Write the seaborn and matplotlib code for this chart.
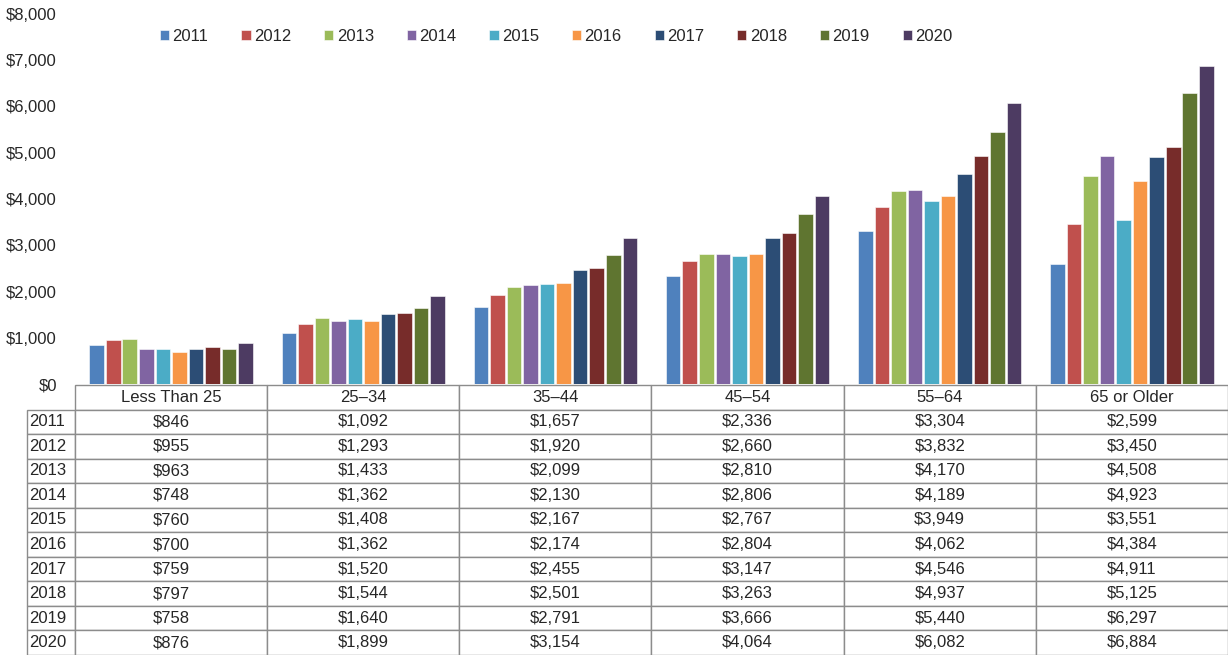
import pandas as pd
import matplotlib
matplotlib.use("Agg")
import matplotlib.pyplot as plt
import seaborn as sns
from matplotlib.ticker import FuncFormatter

ages = ["Less Than 25", "25\u201334", "35\u201344", "45\u201354", "55\u201364", "65 or Older"]
years = ["2011", "2012", "2013", "2014", "2015", "2016", "2017", "2018", "2019", "2020"]

# one list per year, values by age group
v2011 = [846, 1092, 1657, 2336, 3304, 2599]
v2012 = [955, 1293, 1920, 2660, 3832, 3450]
v2013 = [963, 1433, 2099, 2810, 4170, 4508]
v2014 = [748, 1362, 2130, 2806, 4189, 4923]
v2015 = [760, 1408, 2167, 2767, 3949, 3551]
v2016 = [700, 1362, 2174, 2804, 4062, 4384]
v2017 = [759, 1520, 2455, 3147, 4546, 4911]
v2018 = [797, 1544, 2501, 3263, 4937, 5125]
v2019 = [758, 1640, 2791, 3666, 5440, 6297]
v2020 = [876, 1899, 3154, 4064, 6082, 6884]
series = [v2011, v2012, v2013, v2014, v2015, v2016, v2017, v2018, v2019, v2020]

colors = ["#4F81BD", "#C0504D", "#9BBB59", "#8064A2", "#4BACC6",
          "#F79646", "#2C4D75", "#772C2A", "#5F7530", "#4D3B62"]

rows = []
for y, vals in zip(years, series):
    for a, v in zip(ages, vals):
        rows.append({"age": a, "year": y, "value": v})
df = pd.DataFrame(rows)

sns.set_style("white")
plt.rcParams["font.family"] = ["Liberation Sans", "DejaVu Sans"]

fig = plt.figure(figsize=(12.28, 6.55), dpi=100)
W, H = 1228, 655
ax = fig.add_axes([75 / W, (H - 384) / H, (W - 75) / W, (384 - 14) / H])

sns.barplot(data=df, x="age", y="value", hue="year", order=ages, hue_order=years,
            palette=colors, width=0.86, gap=0.12, saturation=1, ax=ax,
            edgecolor="white", linewidth=0.4)

ax.set_ylim(0, 8000)
ax.set_yticks(range(0, 8001, 1000))
ax.yaxis.set_major_formatter(FuncFormatter(lambda v, p: "${:,.0f}".format(v)))
ax.tick_params(axis="y", labelsize=12, length=0, pad=13)
ax.set_xticks([])
ax.set_xlabel("")
ax.set_ylabel("")
ax.set_xlim(-0.5, 5.5)
for s in ax.spines.values():
    s.set_visible(False)

leg = ax.legend(loc="upper left", bbox_to_anchor=((145 - 75) / (W - 75), 1.0), ncol=10,
                frameon=False, fontsize=12, handlelength=0.55, handleheight=0.6,
                handletextpad=0.2, columnspacing=1.98, borderaxespad=0.5)

# data table under the plot
tax = fig.add_axes([27 / W, 0, (W - 27) / W, (H - 385) / H])
tax.axis("off")
cell_text = [[""] + ages]
for y, vals in zip(years, series):
    cell_text.append([y] + ["${:,}".format(v) for v in vals])
lab_w = 48
col_w = (W - 75) / 6
widths = [lab_w] + [col_w] * 6
tot = sum(widths)
tbl = tax.table(cellText=cell_text, colWidths=[w / tot for w in widths],
                cellLoc="center", bbox=[0, 0, 1, 1])
tbl.auto_set_font_size(False)
tbl.set_fontsize(12)
for (r, c), cell in tbl.get_celld().items():
    cell.set_edgecolor("#8C8C8C")
    cell.set_linewidth(1.0)
    if c == 0:
        cell.set_text_props(ha="left")
        cell.PAD = 0.04
    if r == 0 and c == 0:
        cell.visible_edges = ""

fig.savefig("out.png", dpi=100)
